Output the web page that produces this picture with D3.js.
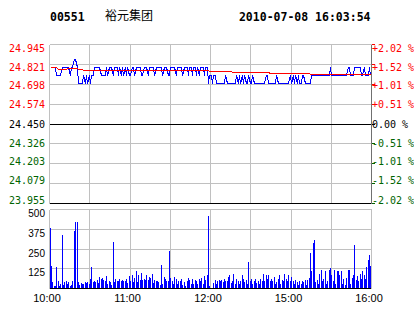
<!DOCTYPE html>
<html>
<head>
<meta charset="utf-8">
<script src="https://cdn.jsdelivr.net/npm/d3@7"></script>
<style>
  body { margin: 0; background: #fff; }
  svg { display: block; }
</style>
</head>
<body>
<svg id="chart" width="414" height="314"></svg>
<script>
// Header
const stockCode = "00551";
const stockName = "裕元集团";
const stamp = "2010-07-08 16:03:54";

// Axis ticks
const prevClose = 24.450;
const priceTicks = [24.945, 24.821, 24.698, 24.574, 24.450, 24.326, 24.203, 24.079, 23.955];
const pctTicks = ["+2.02 %", "+1.52 %", "+1.01 %", "+0.51 %", "0.00 %", "-0.51 %", "-1.01 %", "-1.52 %", "-2.02 %"];
const volTicks = [500, 375, 250, 125];
const timeTicks = [0, 60, 120, 180, 240];   // minutes from 10:00 (trading minutes)
const timeLabels = ["10:00", "11:00", "12:00", "15:00", "16:00"];

// Per-minute last price (10:00-12:30, 14:30-16:00)
const price = [
  24.80,24.80,24.80,24.80,24.80,24.75,24.75,24.75,24.75,24.80,
  24.80,24.80,24.80,24.80,24.80,24.75,24.80,24.80,24.85,24.85,
  24.80,24.70,24.70,24.70,24.70,24.75,24.70,24.75,24.70,24.75,
  24.70,24.75,24.75,24.80,24.80,24.80,24.80,24.80,24.75,24.75,
  24.75,24.75,24.80,24.75,24.80,24.80,24.80,24.75,24.80,24.80,
  24.80,24.75,24.80,24.75,24.80,24.75,24.80,24.75,24.80,24.75,
  24.75,24.80,24.80,24.75,24.80,24.80,24.80,24.80,24.75,24.75,
  24.80,24.80,24.80,24.75,24.80,24.80,24.80,24.80,24.75,24.80,
  24.80,24.80,24.80,24.80,24.75,24.80,24.80,24.80,24.75,24.75,
  24.80,24.80,24.80,24.80,24.75,24.80,24.80,24.80,24.80,24.75,
  24.80,24.80,24.80,24.75,24.80,24.80,24.75,24.80,24.80,24.75,
  24.80,24.75,24.80,24.80,24.80,24.75,24.80,24.80,24.70,24.75,
  24.75,24.70,24.75,24.75,24.70,24.70,24.70,24.70,24.70,24.70,
  24.70,24.75,24.70,24.70,24.70,24.70,24.70,24.70,24.70,24.75,
  24.70,24.75,24.70,24.75,24.70,24.75,24.70,24.70,24.75,24.70,
  24.70,24.75,24.70,24.70,24.70,24.70,24.70,24.70,24.70,24.70,
  24.70,24.75,24.75,24.70,24.70,24.70,24.70,24.70,24.70,24.75,
  24.70,24.70,24.70,24.70,24.70,24.70,24.70,24.70,24.70,24.75,
  24.70,24.75,24.70,24.75,24.70,24.75,24.70,24.70,24.75,24.75,
  24.70,24.70,24.70,24.70,24.70,24.75,24.75,24.75,24.75,24.75,
  24.75,24.75,24.75,24.75,24.75,24.75,24.75,24.75,24.75,24.80,
  24.75,24.75,24.75,24.75,24.75,24.75,24.75,24.75,24.75,24.75,
  24.75,24.75,24.80,24.80,24.75,24.75,24.75,24.80,24.80,24.80,
  24.80,24.80,24.75,24.75,24.80,24.75,24.75,24.75,24.80,24.75
];

// Per-minute average price
const avgPrice = [
  24.800,24.800,24.800,24.800,24.800,24.800,24.790,24.790,24.790,24.790,
  24.790,24.790,24.790,24.798,24.798,24.798,24.798,24.798,24.798,24.798,
  24.798,24.790,24.790,24.790,24.790,24.782,24.782,24.782,24.782,24.782,
  24.782,24.782,24.782,24.782,24.782,24.782,24.782,24.782,24.782,24.782,
  24.782,24.782,24.782,24.782,24.782,24.782,24.782,24.782,24.782,24.782,
  24.782,24.782,24.782,24.782,24.782,24.782,24.782,24.782,24.782,24.782,
  24.782,24.782,24.782,24.782,24.782,24.782,24.782,24.782,24.782,24.782,
  24.782,24.782,24.782,24.782,24.782,24.782,24.782,24.782,24.782,24.782,
  24.782,24.782,24.782,24.782,24.782,24.782,24.782,24.782,24.782,24.782,
  24.782,24.782,24.782,24.782,24.782,24.782,24.782,24.782,24.782,24.782,
  24.782,24.782,24.782,24.782,24.782,24.782,24.782,24.782,24.782,24.782,
  24.782,24.782,24.782,24.782,24.782,24.782,24.782,24.782,24.782,24.777,
  24.777,24.777,24.777,24.777,24.777,24.777,24.777,24.777,24.777,24.777,
  24.777,24.777,24.777,24.777,24.777,24.777,24.769,24.769,24.769,24.769,
  24.769,24.769,24.769,24.769,24.769,24.769,24.769,24.769,24.769,24.769,
  24.769,24.769,24.769,24.769,24.769,24.769,24.769,24.769,24.769,24.769,
  24.769,24.769,24.769,24.769,24.762,24.762,24.762,24.762,24.762,24.762,
  24.762,24.762,24.762,24.762,24.762,24.762,24.762,24.762,24.762,24.762,
  24.762,24.762,24.762,24.762,24.762,24.762,24.762,24.762,24.762,24.762,
  24.762,24.762,24.762,24.762,24.756,24.756,24.756,24.756,24.756,24.756,
  24.756,24.756,24.756,24.756,24.756,24.756,24.756,24.756,24.756,24.756,
  24.756,24.756,24.756,24.756,24.756,24.756,24.756,24.756,24.756,24.756,
  24.756,24.756,24.756,24.756,24.756,24.756,24.756,24.756,24.756,24.756,
  24.756,24.758,24.758,24.758,24.758,24.758,24.758,24.758,24.758,24.758
];

// Per-minute volume
const volume = [
  380,137,38,12,10,130,42,15,25,337,
  20,38,42,28,35,12,20,46,358,420,
  418,36,22,30,25,28,35,30,40,25,
  57,130,36,42,38,52,30,67,60,63,
  48,46,74,28,42,36,20,290,38,57,
  42,46,57,46,52,42,46,57,30,74,
  46,80,36,63,105,38,80,48,95,52,
  57,48,80,52,69,63,89,30,52,42,
  46,36,20,143,28,67,57,42,42,232,
  63,42,28,67,57,25,42,42,57,20,
  36,15,42,63,52,28,57,28,52,42,
  28,57,42,63,28,74,52,80,453,10,
  0,0,32,53,28,46,53,42,53,36,
  57,46,42,67,84,32,46,88,28,57,
  42,28,46,84,57,36,53,28,162,42,
  57,28,46,57,32,42,28,57,42,91,
  46,80,57,84,42,57,42,67,28,36,
  57,80,28,53,42,91,57,46,84,42,
  67,46,25,53,36,20,42,25,46,36,
  48,20,53,63,222,105,285,306,36,53,
  28,88,116,42,57,105,28,42,116,126,
  80,42,111,28,105,109,80,105,28,57,
  20,63,116,116,28,63,80,270,53,74,
  42,88,57,105,80,57,130,179,211,141
];

const svg = d3.select("#chart");
const grid = "#c0c0c0";
const up = "#ff0000", down = "#006400";
const mono = "'DejaVu Sans Mono', monospace";
const sans = "'Liberation Sans', Arial, sans-serif";

const x = d3.scaleLinear().domain([0, 240]).range([49, 371]);
const y = d3.scaleLinear().domain([23.955, 24.945]).range([203, 44]);
const yv = d3.scaleLinear().domain([0, 500]).range([288, 209]);
const labelY = d3.scaleLinear().domain([24.945, 23.955]).range([51.5, 203.5]);
const px = v => Math.round(v) + 0.5;
const colorOf = v => v > prevClose ? up : (v < prevClose ? down : "#000");

// header
svg.append("text").attr("x", 50).attr("y", 20.5)
  .attr("font-family", mono).attr("font-weight", "bold").attr("font-size", 11.5)
  .text(stockCode);
svg.append("text").attr("x", 105).attr("y", 20)
  .attr("font-family", "'Noto Sans CJK SC', sans-serif").attr("font-size", 12)
  .text(stockName);
svg.append("text").attr("x", 370.5).attr("y", 20.5).attr("text-anchor", "end")
  .attr("font-family", mono).attr("font-weight", "bold").attr("font-size", 11.5)
  .text(stamp);

const g = svg.append("g").attr("shape-rendering", "crispEdges");

// vertical grid (both panels)
const vMinutes = d3.range(30, 240, 30);
g.selectAll(".vp").data(vMinutes).enter().append("line")
  .attr("x1", d => px(x(d))).attr("x2", d => px(x(d)))
  .attr("y1", px(y(24.945))).attr("y2", px(y(23.955)))
  .attr("stroke", grid);
g.selectAll(".vv").data(vMinutes).enter().append("line")
  .attr("x1", d => px(x(d))).attr("x2", d => px(x(d)))
  .attr("y1", px(yv(500))).attr("y2", px(yv(0)))
  .attr("stroke", grid);

// horizontal price grid
g.selectAll(".hp").data(priceTicks).enter().append("line")
  .attr("x1", px(x(0))).attr("x2", px(x(240)))
  .attr("y1", d => px(y(d))).attr("y2", d => px(y(d)))
  .attr("stroke", (d, i) => (d === prevClose || i === priceTicks.length - 1) ? "#000" : grid);

// price panel side borders
g.append("line").attr("x1", px(x(0))).attr("x2", px(x(0)))
  .attr("y1", px(y(24.945))).attr("y2", px(y(23.955))).attr("stroke", grid);
g.append("line").attr("x1", px(x(240))).attr("x2", px(x(240)))
  .attr("y1", px(y(24.945))).attr("y2", px(y(23.955))).attr("stroke", "#707070");

// right tick marks
g.selectAll(".rt").data(priceTicks).enter().append("line")
  .attr("x1", px(x(240))).attr("x2", px(x(240)) + 3)
  .attr("y1", d => px(y(d))).attr("y2", d => px(y(d)))
  .attr("stroke", d => colorOf(d));

// volume grid + borders
g.selectAll(".hv").data(volTicks.concat([0])).enter().append("line")
  .attr("x1", px(x(0))).attr("x2", px(x(240)))
  .attr("y1", d => px(yv(d))).attr("y2", d => px(yv(d)))
  .attr("stroke", d => d === 0 ? "#000" : grid);
g.append("line").attr("x1", px(x(0))).attr("x2", px(x(0)))
  .attr("y1", px(yv(500))).attr("y2", px(yv(0))).attr("stroke", grid);
g.append("line").attr("x1", px(x(240))).attr("x2", px(x(240)))
  .attr("y1", px(yv(500))).attr("y2", px(yv(0))).attr("stroke", grid);

// volume bars
g.selectAll(".bar").data(volume).enter().append("rect")
  .attr("x", (d, i) => Math.round(x(i + 0.5)))
  .attr("y", d => Math.round(yv(d)))
  .attr("width", 1)
  .attr("height", d => Math.round(yv(0)) - Math.round(yv(d)))
  .attr("fill", "#0000ff");

// price line and average line
const line = d3.line()
  .x((d, i) => Math.round(x(i + 0.5)) + 0.5)
  .y(d => px(y(d)));
g.append("path").datum(price).attr("d", line)
  .attr("fill", "none").attr("stroke", "#0000ff").attr("stroke-width", 1);
g.append("path").datum(avgPrice).attr("d", line)
  .attr("fill", "none").attr("stroke", "#ff0000").attr("stroke-width", 1);

// left price labels
svg.selectAll(".pl").data(priceTicks).enter().append("text")
  .attr("x", 45).attr("y", d => labelY(d)).attr("text-anchor", "end")
  .attr("font-family", mono).attr("font-size", 10)
  .attr("fill", d => colorOf(d))
  .text(d => d.toFixed(3));

// right percent labels
svg.selectAll(".pr").data(priceTicks).enter().append("text")
  .attr("x", 372).attr("y", d => labelY(d))
  .attr("font-family", mono).attr("font-size", 10)
  .attr("fill", d => colorOf(d))
  .text((d, i) => pctTicks[i]);

// volume labels
svg.selectAll(".vl").data(volTicks).enter().append("text")
  .attr("x", 45).attr("y", d => px(yv(d)) + 7).attr("text-anchor", "end")
  .attr("font-family", sans).attr("font-size", 10)
  .text(d => d);

// time labels
svg.selectAll(".tl").data(timeTicks).enter().append("text")
  .attr("x", d => x(d) - 2).attr("y", 302).attr("text-anchor", "middle")
  .attr("font-family", sans).attr("font-size", 11)
  .text((d, i) => timeLabels[i]);
</script>
</body>
</html>
